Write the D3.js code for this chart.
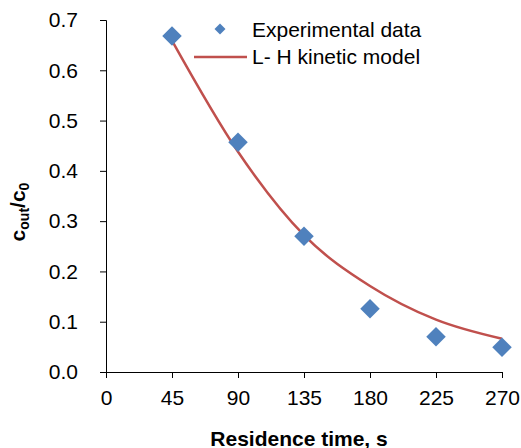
<!DOCTYPE html>
<html>
<head>
<meta charset="utf-8">
<script src="https://cdn.jsdelivr.net/npm/d3@7"></script>
<style>
  body { margin: 0; background: #fff; }
  text { font-family: "Liberation Sans", Arial, sans-serif; fill: #000; }
  .axis path, .axis line { stroke: #000; stroke-width: 1; }
</style>
</head>
<body>
<div id="chart"></div>
<script>
// residence time (s) and measured c_out/c_0
const times = [45, 90, 135, 180, 225, 270];
const measured = [0.668, 0.457, 0.270, 0.126, 0.070, 0.049];
// L-H kinetic model curve
const modelTimes = [45, 90, 135, 180, 225, 270];
const modelValues = [0.659, 0.438, 0.272, 0.171, 0.104, 0.066];
const xTicks = [0, 45, 90, 135, 180, 225, 270];
const yTicks = [0, 0.1, 0.2, 0.3, 0.4, 0.5, 0.6, 0.7];

const width = 521, height = 448;
const margin = { top: 20, right: 19, bottom: 76, left: 106 };

const svg = d3.select("#chart")
    .append("svg")
    .attr("width", width)
    .attr("height", height);

let x = d3.scaleLinear()
    .domain([0, 270])
    .range([margin.left, width - margin.right]);

let y = d3.scaleLinear()
    .domain([0, 0.7])
    .range([height - margin.bottom, margin.top]);

let xAxis = d3.axisBottom(x)
    .tickValues(xTicks)
    .tickSizeOuter(0)
    .tickSize(6)
    .tickPadding(12);

let yAxis = d3.axisLeft(y)
    .tickValues(yTicks)
    .tickFormat(d3.format(".1f"))
    .tickSizeOuter(0)
    .tickSize(6)
    .tickPadding(22);

svg.append("g")
    .attr("class", "axis x-axis")
    .attr("transform", "translate(0," + y(0) + ")")
    .call(xAxis)
    .selectAll("text")
    .style("font-size", "21px");

svg.append("g")
    .attr("class", "axis y-axis")
    .attr("transform", "translate(" + x(0) + ",0)")
    .call(yAxis)
    .selectAll("text")
    .style("font-size", "21px");

// model line
let line = d3.line()
    .x(d => x(d[0]))
    .y(d => y(d[1]))
    .curve(d3.curveMonotoneX);

svg.append("path")
    .datum(modelTimes.map((t, i) => [t, modelValues[i]]))
    .attr("d", line)
    .attr("fill", "none")
    .attr("stroke", "#C0504D")
    .attr("stroke-width", 2.5);

// experimental points
let diamond = d3.symbol().type(d3.symbolSquare).size(190);
svg.selectAll("path.dot")
    .data(times.map((t, i) => [t, measured[i]]))
    .enter()
    .append("path")
    .attr("class", "dot")
    .attr("d", diamond)
    .attr("transform", d => "translate(" + x(d[0]) + "," + y(d[1]) + ") rotate(45)")
    .attr("fill", "#4F81BD");

// legend
let key = svg.append("g");
key.append("path")
    .attr("d", d3.symbol().type(d3.symbolSquare).size(60))
    .attr("transform", "translate(220,29) rotate(45)")
    .attr("fill", "#4F81BD");
key.append("line")
    .attr("x1", 194).attr("x2", 247)
    .attr("y1", 57).attr("y2", 57)
    .attr("stroke", "#C0504D")
    .attr("stroke-width", 2.5);
key.append("text")
    .attr("x", 252).attr("y", 37)
    .style("font-size", "21px")
    .text("Experimental data");
key.append("text")
    .attr("x", 252).attr("y", 64)
    .style("font-size", "21px")
    .text("L- H kinetic model");

// axis titles
svg.append("text")
    .attr("x", 299)
    .attr("y", 446)
    .attr("text-anchor", "middle")
    .style("font-size", "21px")
    .style("font-weight", "bold")
    .text("Residence time, s");

let yTitle = svg.append("text")
    .attr("transform", "translate(25,212) rotate(-90)")
    .attr("text-anchor", "middle")
    .style("font-size", "21px")
    .style("font-weight", "bold");
yTitle.append("tspan").text("c");
yTitle.append("tspan").attr("dy", 4).style("font-size", "14px").text("out");
yTitle.append("tspan").attr("dy", -4).text("/c");
yTitle.append("tspan").attr("dy", 4).style("font-size", "14px").text("0");
</script>
</body>
</html>
